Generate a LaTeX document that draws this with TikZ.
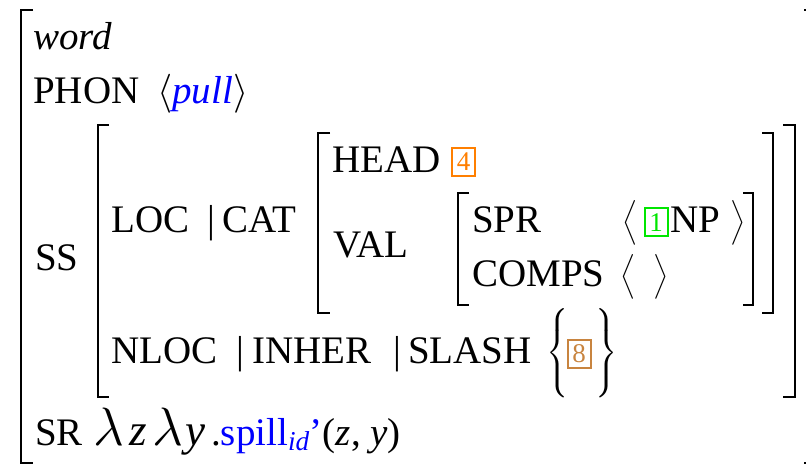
\RequirePackage{fix-cm}
\documentclass[tikz,border=0pt]{standalone}
\usepackage{amsmath}
\usepackage{fontspec}
\setmainfont{LiberationSerif}[Extension=.ttf, UprightFont=*-Regular,
  ItalicFont=*-Italic, BoldFont=*-Bold, BoldItalicFont=*-BoldItalic]
\definecolor{tag-orange}{HTML}{FF7F00}
\definecolor{tag-green}{HTML}{00E600}
\definecolor{tag-brown}{HTML}{C8843F}
\definecolor{sem-blue}{HTML}{0000FF}
\newcommand{\avmfont}{\fontsize{39}{44}\selectfont}
\newcommand{\lam}{{\fontsize{54}{60}\selectfont$\lambda$}}
\newcommand{\lamvar}[1]{{\fontsize{45}{50}\selectfont\textit{#1}}}
\newcommand{\varslot}[2]{\makebox[#1][l]{#2}}

\begin{document}
\begin{tikzpicture}[
  x=1pt, y=-1pt,
  every node/.style={inner sep=0pt, anchor=base west, font=\avmfont},
  attr/.style={},
  sep/.style={anchor=base},
  tagbox/.style={draw=#1, text=#1, anchor=center, line width=2pt,
    minimum width=23pt, minimum height=28pt, font=\fontsize{27}{30}\selectfont},
  avm/.style={line width=2.6pt, line cap=butt, line join=miter},
]
  \useasboundingbox (0,0) rectangle (806,465);

  % outer word matrix
  \draw[avm] (33,10) -- (21,10) -- (21,463) -- (33,463);
  \draw[avm] (804,10) -- (816,10) -- (816,463) -- (804,463);
  \node (word) at (33,50) {\textit{word}};
  \node[attr] (phon) at (33,104) {PHON};
  \node (phonval) at (157,104) {$\langle$\textcolor{sem-blue}{\textit{pull}}$\rangle$};
  \node[attr] (ss) at (35,270) {SS};
  \node[attr] (sr) at (35,445) {SR};
  \node (srval) at (93,445) {\varslot{36pt}{\lam}\varslot{23pt}{\lamvar{z}}\varslot{33pt}{\lam}\varslot{26pt}{\lamvar{y}}.\textcolor{sem-blue}{spill\textsubscript{\textit{id}}’}(\textit{z}, \textit{y})};

  % synsem
  \draw[avm] (109,125) -- (98,125) -- (98,397) -- (109,397);
  \draw[avm] (783,125) -- (795,125) -- (795,397) -- (783,397);
  \node[attr] (loc) at (111,233) {LOC};
  \node[sep] (bar1) at (211,233) {|};
  \node[attr] (cat) at (222,233) {CAT};
  \node[attr] (nloc) at (111,363) {NLOC};
  \node[sep] (bar2) at (240,363) {|};
  \node[attr] (inher) at (252,363) {INHER};
  \node[sep] (bar3) at (397,363) {|};
  \node[attr] (slash) at (408,363) {SLASH};
  \node (lbrace) at (546,363) {$\bigg\{$};
  \node[tagbox=tag-brown] (tag8) at (579,353.5) {8};
  \node (rbrace) at (595,363) {$\bigg\}$};

  % cat
  \draw[avm] (330,133) -- (318,133) -- (318,313) -- (330,313);
  \draw[avm] (762,133) -- (773,133) -- (773,313) -- (762,313);
  \node[attr] (head) at (332,173) {HEAD};
  \node[tagbox=tag-orange] (tag4) at (463.5,162) {4};
  \node[attr] (val) at (333,258) {VAL};

  % valence
  \draw[avm] (469,193) -- (458,193) -- (458,305) -- (469,305);
  \draw[avm] (743,193) -- (753,193) -- (753,305) -- (743,305);
  \node[attr] (spr) at (472,233) {SPR};
  \node (sprl) at (622,233) {$\big\langle$};
  \node[tagbox=tag-green] (tag1) at (656,222.5) {1};
  \node (np) at (670,233) {NP};
  \node (sprr) at (730,233) {$\big\rangle$};
  \node[attr] (comps) at (472,287) {COMPS};
  \node (compsl) at (620,287) {$\big\langle$};
  \node (compsr) at (653,287) {$\big\rangle$};
\end{tikzpicture}
\end{document}
